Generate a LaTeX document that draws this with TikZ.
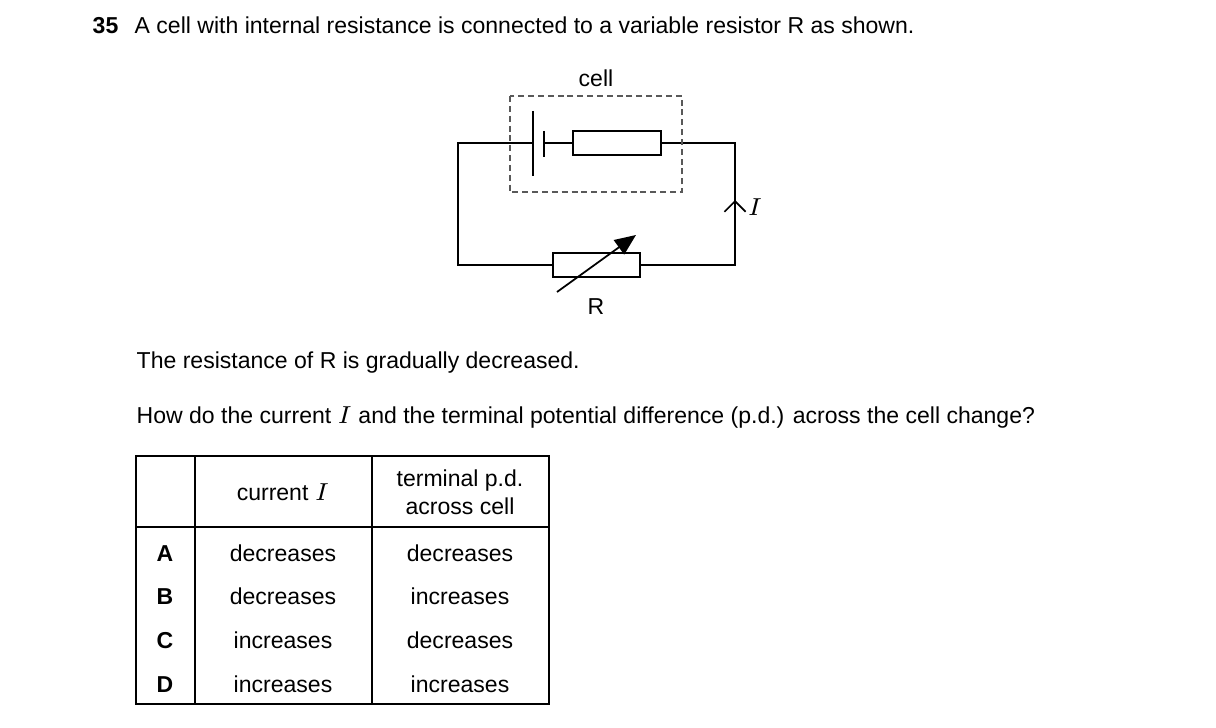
\documentclass[tikz,border=0pt]{standalone}
\usepackage{fontspec}
\setmainfont{Liberation Sans}
\usetikzlibrary{arrows.meta}
\begin{document}
\begin{tikzpicture}[x=0.01cm,y=-0.01cm,font=\fontsize{6.55}{8}\selectfont,
  wire/.style={line width=0.5pt},
  res/.style={draw,line width=0.5pt,fill=white,rectangle,anchor=center},
  txt/.style={anchor=base west,inner sep=0pt},
  cellt/.style={inner sep=0pt,align=center},
  entry/.style={inner sep=0pt,anchor=base}]
  \useasboundingbox (0,0) rectangle (1216,728);
  % question
  \node[txt,font=\fontsize{6.55}{8}\selectfont\bfseries] (num) at (92,34) {35};
  \node[txt] (q) at (134,34) {A cell with internal resistance is connected to a variable resistor R as shown.};
  % circuit corners
  \coordinate (tl) at (458,143);
  \coordinate (tr) at (735,143);
  \coordinate (bl) at (458,265);
  \coordinate (br) at (735,265);
  \coordinate (pa) at (533,143);
  \coordinate (pb) at (544,143);
  \node[res,minimum width=0.88cm,minimum height=0.22cm] (rint) at (617,143) {};
  \node[res,minimum width=0.87cm,minimum height=0.22cm] (rvar) at (596.5,265) {};
  \draw[wire] (pa) -- (tl) -- (bl) -- (rvar.west);
  \draw[wire] (rvar.east) -- (br) -- (tr) -- (rint.east);
  \draw[wire] (pb) -- (rint.west);
  \draw[wire] (533,111) -- (533,176);
  \draw[wire] (544,131) -- (544,157);
  \draw[line width=0.4pt,gray!70!black,dash pattern=on 1.7pt off 1.1pt] (510,96) rectangle (682,192);
  \node[cellt] (celll) at (596,78) {cell};
  \coordinate (ia) at (735,212);
  \coordinate (ib) at (735,200);
  \draw[wire,-{Straight Barb[length=3pt,width=6pt]}] (ia) -- (ib);
  \node[cellt,font=\fontsize{7.2}{8}\selectfont] (ilab) at (755,207) {$I$};
  \draw[wire,-{Triangle[length=6pt,width=5pt]}] (557,292) -- (636,235);
  \node[cellt] (rlab) at (596,307) {R};
  \node[txt] (t1) at (136,369) {The resistance of R is gradually decreased.};
  \node[txt] (t2) at (136,423) {How do the current $I$ and the terminal potential difference (p.d.) across the cell change?};
  % table
  \draw[wire] (136,456) rectangle (549,704);
  \draw[wire] (136,527) -- (549,527);
  \draw[wire] (195,456) -- (195,704);
  \draw[wire] (372,456) -- (372,704);
  \node[cellt] (h1) at (283,492) {current $I$};
  \node[cellt] (h2) at (460,492) {terminal p.d.\\across cell};
  \foreach \l/\c/\p [count=\i] in {A/decreases/decreases,B/decreases/increases,C/increases/decreases,D/increases/increases}{
    \node[entry,font=\fontsize{6.55}{8}\selectfont\bfseries] (row\i) at (165,{561+43.7*(\i-1)}) {\l};
    \node[entry] (cur\i) at (283,{561+43.7*(\i-1)}) {\c};
    \node[entry] (pd\i) at (460,{561+43.7*(\i-1)}) {\p};
  }
\end{tikzpicture}
\end{document}
